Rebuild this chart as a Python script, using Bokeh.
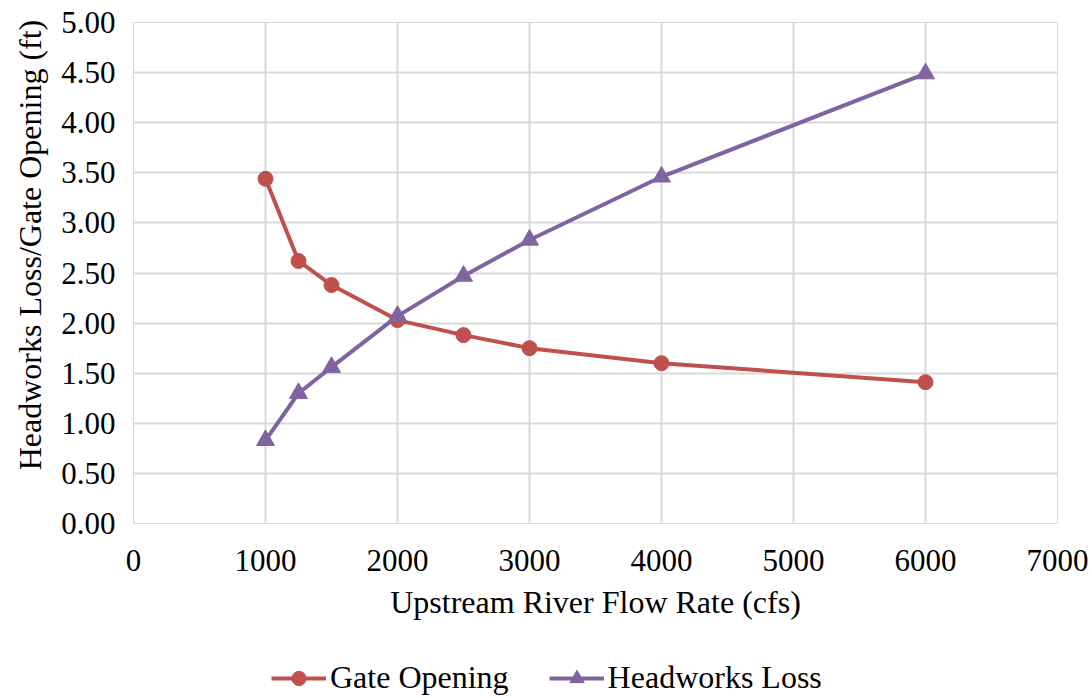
from bokeh.plotting import figure
from bokeh.layouts import column
from bokeh.models import Legend, LegendItem, FixedTicker, NumeralTickFormatter, Range1d
from bokeh.embed import file_html
from bokeh.resources import INLINE

flow = [1000, 1250, 1500, 2000, 2500, 3000, 4000, 6000]
gate_opening = [3.44, 2.62, 2.38, 2.03, 1.88, 1.75, 1.60, 1.41]
headworks_loss = [0.83, 1.30, 1.56, 2.07, 2.47, 2.83, 3.46, 4.49]
x_ticks = [0, 1000, 2000, 3000, 4000, 5000, 6000, 7000]
y_ticks = [0.0, 0.5, 1.0, 1.5, 2.0, 2.5, 3.0, 3.5, 4.0, 4.5, 5.0]

RED = "#C0504D"
PURPLE = "#8064A2"
GRID = "#D9D9D9"
FONT = "Liberation Serif"

p = figure(width=1092, height=658, output_backend="svg", toolbar_location=None,
           x_range=Range1d(0, 7000), y_range=Range1d(0, 5),
           min_border_left=133, min_border_right=35, min_border_top=22, min_border_bottom=135)
p.background_fill_color = "white"
p.border_fill_color = "white"
p.outline_line_color = GRID

for ax in (p.xaxis[0], p.yaxis[0]):
    ax.axis_line_color = GRID
    ax.major_tick_line_color = None
    ax.minor_tick_line_color = None
    ax.major_label_text_font = FONT
    ax.major_label_text_font_size = "31px"
    ax.major_label_text_color = "black"
    ax.axis_label_text_font = FONT
    ax.axis_label_text_font_size = "32px"
    ax.axis_label_text_font_style = "normal"
    ax.axis_label_text_color = "black"

p.xaxis.ticker = FixedTicker(ticks=x_ticks)
p.yaxis.ticker = FixedTicker(ticks=y_ticks)
p.yaxis.formatter = NumeralTickFormatter(format="0.00")
p.xaxis.axis_label = "Upstream River Flow Rate (cfs)"
# leading no-break spaces nudge the title upward, as in the reference
p.yaxis.axis_label = "\u00a0" * 7 + "Headworks Loss/Gate Opening (ft)"
p.xaxis.major_label_standoff = 20
p.yaxis.major_label_standoff = 12
p.xaxis.axis_label_standoff = 10
p.yaxis.axis_label_standoff = 10

p.xgrid.ticker = FixedTicker(ticks=x_ticks)
p.ygrid.ticker = FixedTicker(ticks=y_ticks)
p.xgrid.grid_line_color = GRID
p.ygrid.grid_line_color = GRID
p.xgrid.grid_line_width = 2
p.ygrid.grid_line_width = 2

l1 = p.line(flow, gate_opening, line_color=RED, line_width=4)
m1 = p.scatter(flow, gate_opening, marker="circle", size=15, fill_color=RED, line_color=RED)
l2 = p.line(flow, headworks_loss, line_color=PURPLE, line_width=4)
m2 = p.scatter(flow, headworks_loss, marker="triangle", size=18, fill_color=PURPLE, line_color=PURPLE)

# legend strip below the chart (its own renderers sit outside the visible range)
lf = figure(width=1092, height=40, output_backend="svg", toolbar_location=None,
            x_range=Range1d(0, 1), y_range=Range1d(0, 1),
            min_border_left=0, min_border_right=0, min_border_top=0, min_border_bottom=0)
lf.axis.visible = False
lf.grid.visible = False
lf.outline_line_color = None
lf.background_fill_color = "white"
lf.border_fill_color = "white"
ll1 = lf.line(flow, gate_opening, line_color=RED, line_width=4)
lm1 = lf.scatter(flow, gate_opening, marker="circle", size=15, fill_color=RED, line_color=RED)
ll2 = lf.line(flow, headworks_loss, line_color=PURPLE, line_width=4)
lm2 = lf.scatter(flow, headworks_loss, marker="triangle", size=18, fill_color=PURPLE, line_color=PURPLE)

legend = Legend(items=[LegendItem(label="Gate Opening", renderers=[ll1, lm1]),
                       LegendItem(label="Headworks Loss", renderers=[ll2, lm2])],
                orientation="horizontal", location=(138, 2),
                label_text_font=FONT, label_text_font_size="32px", label_text_color="black",
                glyph_width=55, glyph_height=36, spacing=40, label_standoff=4,
                border_line_color=None, background_fill_alpha=0, margin=0, padding=0)
lf.add_layout(legend, "center")

layout = column(p, lf, spacing=0)
open("out.html", "w").write(file_html(layout, INLINE))
